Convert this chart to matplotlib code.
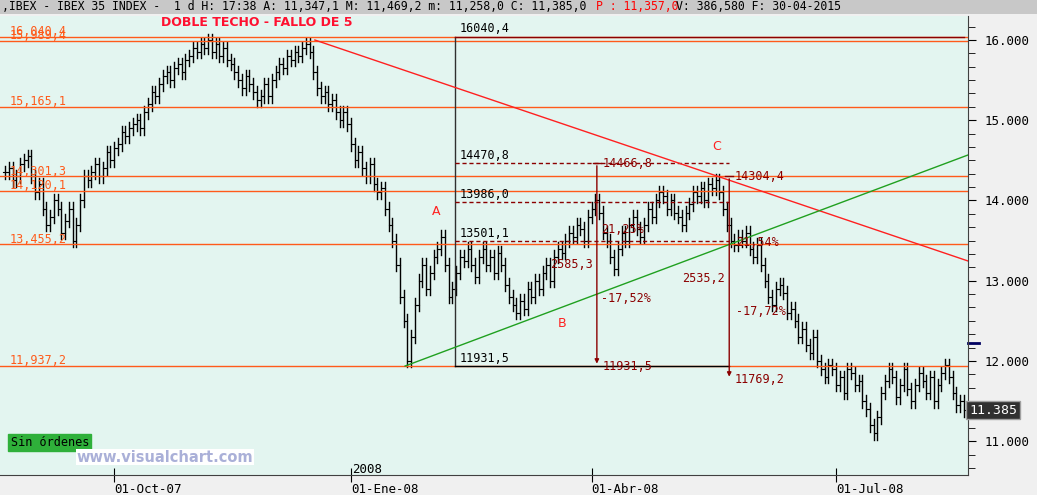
import numpy as np
import matplotlib.pyplot as plt
from matplotlib.ticker import MultipleLocator

# daily closes, IBEX 35, Aug-2007 .. Aug-2008
closes = [14350, 14400, 14250, 14300, 14450, 14500, 14550, 14300, 14100, 14200,
          13900, 13700, 13800, 14000, 13900, 13600, 13750, 13900, 13500, 13700, 14000,
          14300, 14250, 14350, 14450, 14300, 14400, 14600, 14500,
          14650, 14700, 14850, 14800, 14900, 14950, 15000, 14900, 15100, 15200, 15350, 15300,
          15450, 15550, 15600, 15500, 15650, 15700, 15600,
          15750, 15800, 15900, 15850, 15950, 15900, 16000, 15850, 15950, 15800, 15900,
          15750, 15700, 15600, 15500, 15400, 15550, 15450, 15350, 15250, 15300, 15450, 15300,
          15500, 15600, 15700, 15650, 15800, 15750, 15850, 15800, 15900, 15950, 15850,
          15600, 15400, 15300, 15350, 15200, 15250, 15100, 15000, 15100, 14950, 14700,
          14500, 14600, 14400, 14300, 14450, 14200, 14100, 14150, 13900,
          13700, 13500, 13200, 12800, 12500, 12000, 12300,
          12700, 13000, 13200, 12900, 13100, 13300, 13400, 13550,
          13200, 12800, 12900, 13100, 13300, 13250, 13400, 13200, 13050, 13300, 13400, 13200,
          13300, 13100, 13350, 13200,
          12950, 12800, 12700, 12600, 12750, 12650, 12900, 12800, 13000, 12900,
          13100, 13200, 13000, 13300, 13400, 13350, 13500, 13600, 13550, 13700, 13650, 13500,
          13800, 13900, 14000, 13850,
          13600, 13500, 13300, 13150, 13400, 13600, 13500, 13700,
          13800, 13650, 13550, 13700, 13900, 13800, 14000, 14100, 14050, 13900, 14000, 13850,
          13800, 13700, 13850, 13950, 14100, 14050, 14150, 14000, 14200, 14150, 14250, 14100,
          13900, 13700, 13500, 13450, 13550, 13500, 13600, 13400, 13300, 13450, 13200, 13000, 12800,
          12700, 12900, 12950, 12850, 12600, 12650, 12500, 12300,
          12400, 12200, 12100, 12300, 12000, 11900, 11800, 11950,
          11900, 11700, 11800, 11600, 11900, 11850, 11700, 11750, 11500, 11400, 11200, 11100, 11300, 11600,
          11750, 11900, 11800, 11550, 11700, 11900, 11650, 11500, 11700, 11850, 11750, 11600,
          11800, 11500, 11700, 11850, 11950, 11800, 11600, 11450, 11500, 11385]

h_levels = [16040.4, 15989.4, 15165.1, 14301.3, 14120.1, 13455.2, 11937.2]
h_labels = ['16,040,4', '15,989,4', '15,165,1', '14,301,3', '14,120,1', '13,455,2', '11,937,2']
fibo_levels = [14470.8, 13986.0, 13501.1]
fibo_labels = ['14470,8', '13986,0', '13501,1']
tick_pos = [29, 92, 156, 221]
tick_labels = ['01-Oct-07', '01-Ene-08', '01-Abr-08', '01-Jul-08']

fig = plt.figure(figsize=(10.37, 4.95), dpi=100, facecolor='#f0f0f0')
ax = fig.add_axes([0, 20/495, 968/1037, 459/495])
ax.set_facecolor('#e3f5f0')
ax.set_xlim(-1.33, 256.1)
ax.set_ylim(10579, 16299)

# OHLC bars, open = previous close
prev = closes[0]
for i, c in enumerate(closes):
    hi = max(prev, c) + 80
    lo = min(prev, c) - 80
    ax.plot([i, i], [lo, hi], color='black', lw=1)
    ax.plot([i - 0.5, i], [prev, prev], color='black', lw=0.8)
    ax.plot([i, i + 0.5], [c, c], color='black', lw=0.8)
    prev = c

orange = '#ff5a1a'
darkred = '#8b0000'
for lv, lb in zip(h_levels, h_labels):
    ax.axhline(lv, color=orange, lw=1)
    ax.text(1.3, lv + 20, lb, color=orange, fontsize=8.5, family='DejaVu Sans Mono')

# measuring box
x0, x1 = 119.7, 192.5
ax.plot([x0, x0], [11931.5, 16040.4], color='#303030', lw=1)
ax.plot([x0, 255], [16040.4, 16040.4], color=darkred, lw=1)
ax.plot([x0, x1], [11931.5, 11931.5], color='black', lw=1)
ax.text(x0 + 1.3, 16100, '16040,4', fontsize=8.5, family='DejaVu Sans Mono')
ax.text(x0 + 1.3, 11990, '11931,5', fontsize=8.5, family='DejaVu Sans Mono')
for lv, lb in zip(fibo_levels, fibo_labels):
    ax.plot([x0, x1], [lv, lv], color=darkred, lw=1, ls=(0, (3, 2)))
    ax.text(x0 + 1.3, lv + 40, lb, fontsize=8.5, family='DejaVu Sans Mono')

# trend lines
ax.plot([82.4, 256.1], [16000, 13246], color='#ff2020', lw=1)
ax.plot([106.4, 256.1], [11937, 14567], color='#20a020', lw=1)

# vertical measures
for xa, top, bot in [(157.4, 14466.8, 11931.5), (192.6, 14304.4, 11769.2)]:
    ax.annotate('', xy=(xa, bot), xytext=(xa, top),
                arrowprops=dict(arrowstyle='-|>', color=darkred, lw=1, mutation_scale=6))
    ax.plot([xa - 1, xa + 1], [top, top], color=darkred, lw=1)
    ax.text(xa + 1.5, top, f'{top:.1f}'.replace('.', ','), color=darkred, fontsize=8.5,
            family='DejaVu Sans Mono', va='center')
    ax.text(xa + 1.5, bot, f'{bot:.1f}'.replace('.', ','), color=darkred, fontsize=8.5,
            family='DejaVu Sans Mono', va='center')

for xt, yt, s in [(145, 13160, '2585,3'), (158.6, 12735, '-17,52%'), (158.6, 13595, '21,25%'),
                  (180, 12985, '2535,2'), (194.5, 12573, '-17,72%'), (194.5, 13433, '21,54%')]:
    ax.text(xt, yt, s, color=darkred, fontsize=8.5, family='DejaVu Sans Mono')
for xt, yt, s in [(113.5, 13820, 'A'), (147, 12420, 'B'), (188, 14630, 'C')]:
    ax.text(xt, yt, s, color='#ff2020', fontsize=9)

ax.text(67, 16180, 'DOBLE TECHO - FALLO DE 5', color='#ff1030', fontsize=9, fontweight='bold',
        ha='center')

# axes / ticks
ax.yaxis.tick_right()
ax.set_yticks([11000, 12000, 13000, 14000, 15000, 16000])
ax.set_yticklabels(['11.000', '12.000', '13.000', '14.000', '15.000', '16.000'],
                   family='DejaVu Sans Mono', fontsize=9)
ax.yaxis.set_minor_locator(MultipleLocator(1000 / 6))
ax.tick_params(axis='y', which='both', direction='out', length=6, pad=6)
ax.tick_params(axis='y', which='minor', length=5)
ax.set_xticks(tick_pos)
ax.set_xticklabels(tick_labels, family='DejaVu Sans Mono', fontsize=9, ha='left')
ax.tick_params(axis='x', direction='inout', length=10, pad=1)
for s in ['top', 'left']:
    ax.spines[s].set_visible(False)
ax.spines['right'].set_color('#404040')
ax.spines['bottom'].set_color('#404040')
ax.text(92.3, 10610, '2008', fontsize=9, family='DejaVu Sans Mono')

ax.text(256.4, 11385, '11.385', color='white', fontsize=9.5, family='DejaVu Sans Mono', va='center',
        bbox=dict(boxstyle='square,pad=0.2', fc='#303030', ec='#a0a0a0'), clip_on=False)
ax.plot([256.1, 259], [12230, 12230], color='#000060', lw=2, clip_on=False)

ax.text(1.5, 10940, 'Sin órdenes', fontsize=8.5, family='DejaVu Sans Mono',
        bbox=dict(boxstyle='square,pad=0.2', fc='#2fb03a', ec='#2fb03a'))
ax.text(19, 10745, 'www.visualchart.com', fontsize=10.5, fontweight='bold', color='#aab0d8',
        bbox=dict(boxstyle='square,pad=0.05', fc='white', ec='none'))

# header strip
fig.patches.append(plt.Rectangle((0, 1 - 14/495), 1, 14/495, transform=fig.transFigure,
                                 fc='#c8c8c8', ec='none'))
fig.text(0.002, 1 - 7/495, ',IBEX - IBEX 35 INDEX -  1 d H: 17:38 A: 11,347,1 M: 11,469,2 m: 11,258,0 C: 11,385,0',
         fontsize=8.3, family='DejaVu Sans Mono', va='center')
fig.text(0.575, 1 - 7/495, 'P : 11,357,0', fontsize=8.3, family='DejaVu Sans Mono', va='center', color='red')
fig.text(0.652, 1 - 7/495, 'V: 386,580 F: 30-04-2015', fontsize=8.3, family='DejaVu Sans Mono', va='center')

fig.savefig('out.png', dpi=100, facecolor=fig.get_facecolor())
